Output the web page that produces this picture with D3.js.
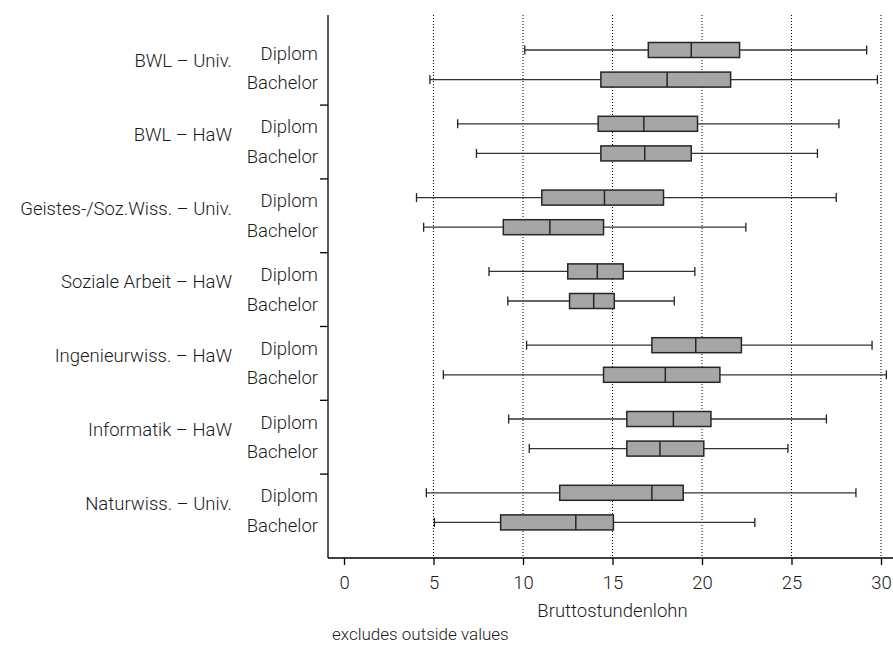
<!DOCTYPE html>
<html>
<head>
<meta charset="utf-8">
<script src="https://cdn.jsdelivr.net/npm/d3@7"></script>
<style>
  body { margin:0; background:#fff; }
  text { font-family: Roboto, "Liberation Sans", sans-serif; font-weight:300; fill:#1a1a1a; }
</style>
</head>
<body>
<svg id="chart" width="893" height="649"></svg>
<script>
// groups (top to bottom) and degree types
var groups = ["BWL – Univ.", "BWL – HaW", "Geistes-/Soz.Wiss. – Univ.", "Soziale Arbeit – HaW",
              "Ingenieurwiss. – HaW", "Informatik – HaW", "Naturwiss. – Univ."];
var types = ["Diplom", "Bachelor"];

// [lower whisker, q1, median, q3, upper whisker]
var diplom = [
  [10.1, 17.0, 19.4, 22.1, 29.2],
  [6.35, 14.2, 16.75, 19.75, 27.65],
  [4.05, 11.05, 14.55, 17.85, 27.5],
  [8.1, 12.5, 14.15, 15.6, 19.6],
  [10.2, 17.2, 19.65, 22.2, 29.5],
  [9.2, 15.8, 18.4, 20.5, 26.95],
  [4.6, 12.05, 17.2, 18.95, 28.6]
];
var bachelor = [
  [4.8, 14.35, 18.05, 21.6, 29.8],
  [7.4, 14.35, 16.8, 19.4, 26.45],
  [4.45, 8.9, 11.5, 14.5, 22.45],
  [9.15, 12.6, 13.95, 15.1, 18.45],
  [5.55, 14.5, 17.95, 21.0, 30.3],
  [10.35, 15.8, 17.65, 20.1, 24.8],
  [5.05, 8.75, 12.95, 15.05, 22.95]
];
var xTicks = [0, 5, 10, 15, 20, 25, 30];
var gridTicks = [5, 10, 15, 20, 25, 30];
var xTitle = "Bruttostundenlohn";
var note = "excludes outside values";

var svg = d3.select("#chart");
var axisX = 328, plotTop = 15, plotBottom = 558;
var fs = 18.5;

var x = d3.scaleLinear().domain([0, 30]).range([344, 881]);
var yGroup = d3.scaleBand().domain(groups).range([31.3, 31.3 + 7 * 73.8]);
var yType = d3.scalePoint().domain(types).range([18.7, 48.3]);

// build rows from the arrays
var rows = [];
groups.forEach(function(g, i){
  rows.push({group: g, type: "Diplom", v: diplom[i]});
  rows.push({group: g, type: "Bachelor", v: bachelor[i]});
});
function rowY(d){ return yGroup(d.group) + yType(d.type); }

// dotted grid
svg.append("g").selectAll("line").data(gridTicks).join("line")
  .attr("x1", d => x(d)).attr("x2", d => x(d))
  .attr("y1", plotTop).attr("y2", plotBottom)
  .attr("stroke", "#000").attr("stroke-width", 1).attr("stroke-dasharray", "1,2");

// boxes
var bh = 15, cap = 4.5;
var box = svg.append("g").selectAll("g").data(rows).join("g")
  .attr("transform", d => "translate(0," + rowY(d) + ")");
box.append("line")
  .attr("x1", d => x(d.v[0])).attr("x2", d => x(d.v[4]))
  .attr("stroke", "#333").attr("stroke-width", 1.3);
box.append("line")
  .attr("x1", d => x(d.v[0])).attr("x2", d => x(d.v[0]))
  .attr("y1", -cap).attr("y2", cap).attr("stroke", "#222").attr("stroke-width", 1.3);
box.append("line")
  .attr("x1", d => x(d.v[4])).attr("x2", d => x(d.v[4]))
  .attr("y1", -cap).attr("y2", cap).attr("stroke", "#222").attr("stroke-width", 1.3);
box.append("rect")
  .attr("x", d => x(d.v[1])).attr("width", d => x(d.v[3]) - x(d.v[1]))
  .attr("y", -bh / 2).attr("height", bh)
  .attr("fill", "#a6a6a6").attr("stroke", "#262626").attr("stroke-width", 1.5);
box.append("line")
  .attr("x1", d => x(d.v[2])).attr("x2", d => x(d.v[2]))
  .attr("y1", -bh / 2).attr("y2", bh / 2)
  .attr("stroke", "#262626").attr("stroke-width", 1.5);

// axes lines
svg.append("line").attr("x1", axisX).attr("x2", axisX).attr("y1", plotTop).attr("y2", plotBottom)
  .attr("stroke", "#000").attr("stroke-width", 1.3);
svg.append("line").attr("x1", axisX).attr("x2", 893).attr("y1", plotBottom).attr("y2", plotBottom)
  .attr("stroke", "#000").attr("stroke-width", 1.3);

// group separator ticks on the left axis
svg.append("g").selectAll("line").data(groups.slice(1)).join("line")
  .attr("x1", axisX - 8).attr("x2", axisX)
  .attr("y1", d => yGroup(d)).attr("y2", d => yGroup(d))
  .attr("stroke", "#000").attr("stroke-width", 1.3);

// x axis
var xa = svg.append("g").attr("transform", "translate(0," + plotBottom + ")")
  .call(d3.axisBottom(x).tickValues(xTicks).tickSize(7).tickPadding(11).tickFormat(d3.format("d")));
xa.select(".domain").remove();
xa.selectAll(".tick line").attr("stroke", "#000").attr("stroke-width", 1.3);
xa.selectAll(".tick text").attr("font-size", fs).attr("font-family", null).attr("fill", null);

// row labels
svg.append("g").selectAll("text").data(rows).join("text")
  .attr("x", 318).attr("y", d => rowY(d) + 9.5)
  .attr("text-anchor", "end").attr("font-size", fs)
  .text(d => d.type);

// group labels
svg.append("g").selectAll("text").data(groups).join("text")
  .attr("x", 232).attr("y", d => yGroup(d) + yType("Diplom") + 17)
  .attr("text-anchor", "end").attr("font-size", fs)
  .text(d => d);

svg.append("text").attr("x", x(15)).attr("y", 617).attr("text-anchor", "middle")
  .attr("font-size", fs).text(xTitle);
svg.append("text").attr("x", 332).attr("y", 640).attr("font-size", 17).text(note);
</script>
</body>
</html>
